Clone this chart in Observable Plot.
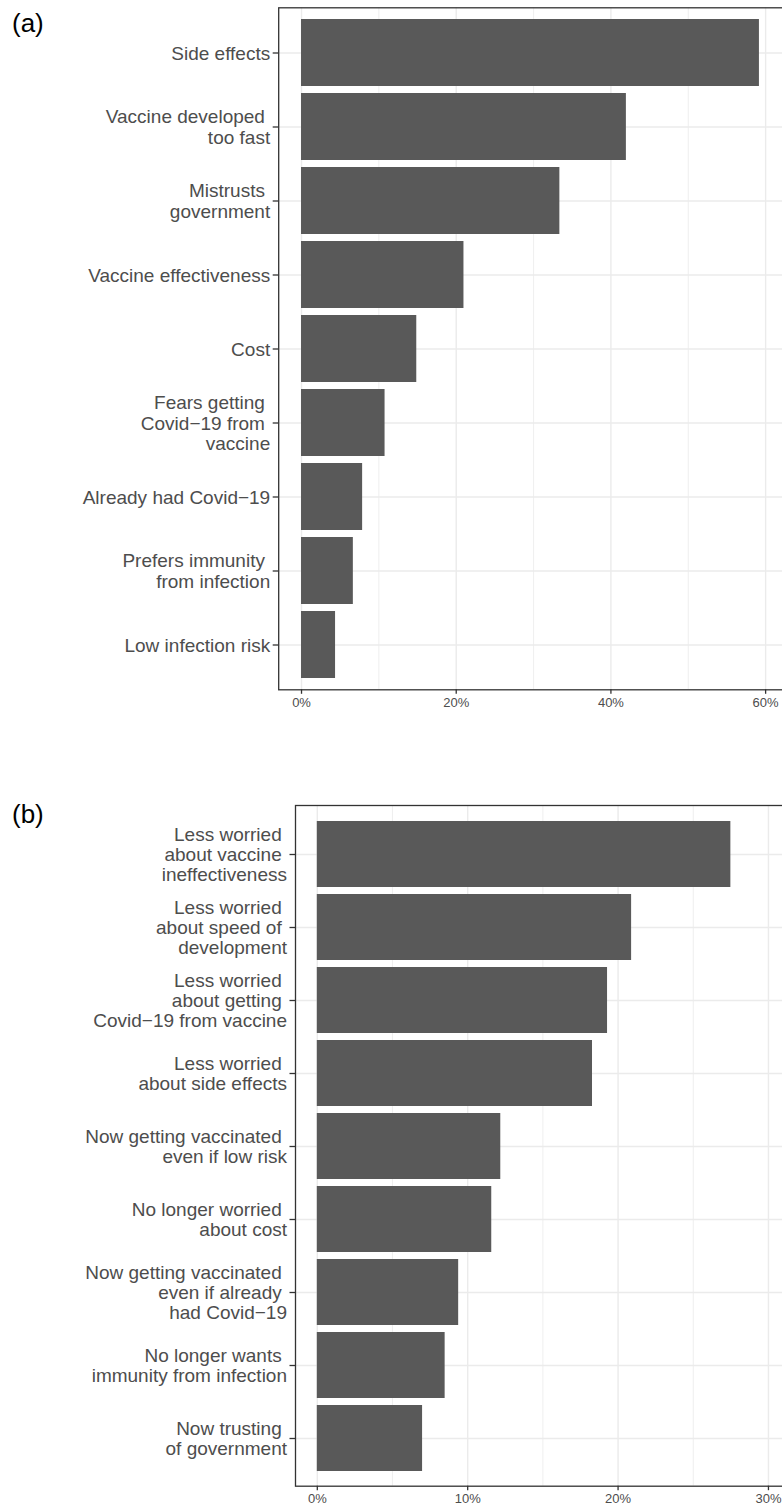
<!DOCTYPE html>
<html>
<head>
<meta charset="utf-8">
<script src="https://cdn.jsdelivr.net/npm/d3@7"></script>
<script src="https://cdn.jsdelivr.net/npm/@observablehq/plot@0.6"></script>
<style>
  html, body { margin: 0; padding: 0; background: #ffffff; overflow: hidden; }
  #page { position: relative; width: 782px; height: 1507px; overflow: hidden; font-family: "Liberation Sans", Arial, Helvetica, sans-serif; }
  .panel { position: absolute; left: 0; }
  .tag { position: absolute; left: 12px; font-size: 26px; color: #000000; line-height: 1; }
  svg text { white-space: pre; }
</style>
</head>
<body>
<div id="page">
  <div class="tag" style="top:10px;">(a)</div>
  <div class="panel" id="panelA" style="top:0px;"></div>
  <div class="tag" style="top:800.5px;">(b)</div>
  <div class="panel" id="panelB" style="top:770px;"></div>
</div>
<script>
// (a) Reasons given for not wanting the vaccine (share of respondents, %)
const reasonsA = [
  "Side effects",
  "Vaccine developed \ntoo fast",
  "Mistrusts \ngovernment",
  "Vaccine effectiveness",
  "Cost",
  "Fears getting \nCovid\u221219 from \nvaccine",
  "Already had Covid\u221219",
  "Prefers immunity \nfrom infection",
  "Low infection risk"
];
const shareA = [59.2, 42.0, 33.4, 21.0, 14.9, 10.8, 7.9, 6.7, 4.4];
const majorTicksA = [0, 20, 40, 60];
const minorTicksA = [10, 30, 50];

// (b) Changes in attitude among those who became willing (share, %)
const reasonsB = [
  "Less worried \nabout vaccine \nineffectiveness",
  "Less worried \nabout speed of \ndevelopment",
  "Less worried \nabout getting \nCovid\u221219 from vaccine",
  "Less worried \nabout side effects",
  "Now getting vaccinated \neven if low risk",
  "No longer worried \nabout cost",
  "Now getting vaccinated \neven if already \nhad Covid\u221219",
  "No longer wants \nimmunity from infection",
  "Now trusting \nof government"
];
const shareB = [27.5, 20.9, 19.3, 18.3, 12.2, 11.6, 9.4, 8.5, 7.0];
const majorTicksB = [0, 10, 20, 30];
const minorTicksB = [5, 15, 25];

const FONT = "'Liberation Sans', Arial, Helvetica, sans-serif";

function barPanel({labels, values, xDomain, major, minor, marginLeft, marginTop, marginBottom, height}) {
  const rows = labels.map((label, i) => ({label, value: values[i]}));
  return Plot.plot({
    width: 782,
    height,
    marginLeft,
    marginRight: -4,
    marginTop,
    marginBottom,
    style: {fontFamily: FONT, background: "transparent", overflow: "hidden"},
    x: {domain: xDomain},
    y: {domain: labels, paddingInner: 0.1, paddingOuter: 0.15, align: 0.5},
    marks: [
      Plot.gridX(minor, {stroke: "#ebebeb", strokeOpacity: 1, strokeWidth: 0.8}),
      Plot.gridX(major, {stroke: "#ebebeb", strokeOpacity: 1, strokeWidth: 1.4}),
      Plot.gridY({stroke: "#ebebeb", strokeOpacity: 1, strokeWidth: 1.4}),
      Plot.barX(rows, {x: "value", y: "label", fill: "#595959"}),
      Plot.frame({stroke: "#333333", strokeWidth: 1.3}),
      Plot.axisY({
        label: null,
        tickSize: 5.5,
        tickPadding: 3,
        fontSize: 19,
        lineHeight: 1.07,
        stroke: "#333333",
        strokeWidth: 1.3,
        fill: "#4d4d4d",
        tickFormat: d => d
      }),
      Plot.axisX(major, {
        label: null,
        tickSize: 4.5,
        tickPadding: 3,
        fontSize: 13,
        stroke: "#333333",
        strokeWidth: 1.3,
        fill: "#4d4d4d",
        tickFormat: d => d + "%"
      })
    ]
  });
}

document.getElementById("panelA").append(barPanel({
  labels: reasonsA,
  values: shareA,
  xDomain: [-2.95, 62.7],
  major: majorTicksA,
  minor: minorTicksA,
  marginLeft: 278.2,
  marginTop: 7.3,
  marginBottom: 30.7,
  height: 720
}));

document.getElementById("panelB").append(barPanel({
  labels: reasonsB,
  values: shareB,
  xDomain: [-1.45, 31.2],
  major: majorTicksB,
  minor: minorTicksB,
  marginLeft: 295,
  marginTop: 35,
  marginBottom: 21.3,
  height: 737
}));
</script>
</body>
</html>
